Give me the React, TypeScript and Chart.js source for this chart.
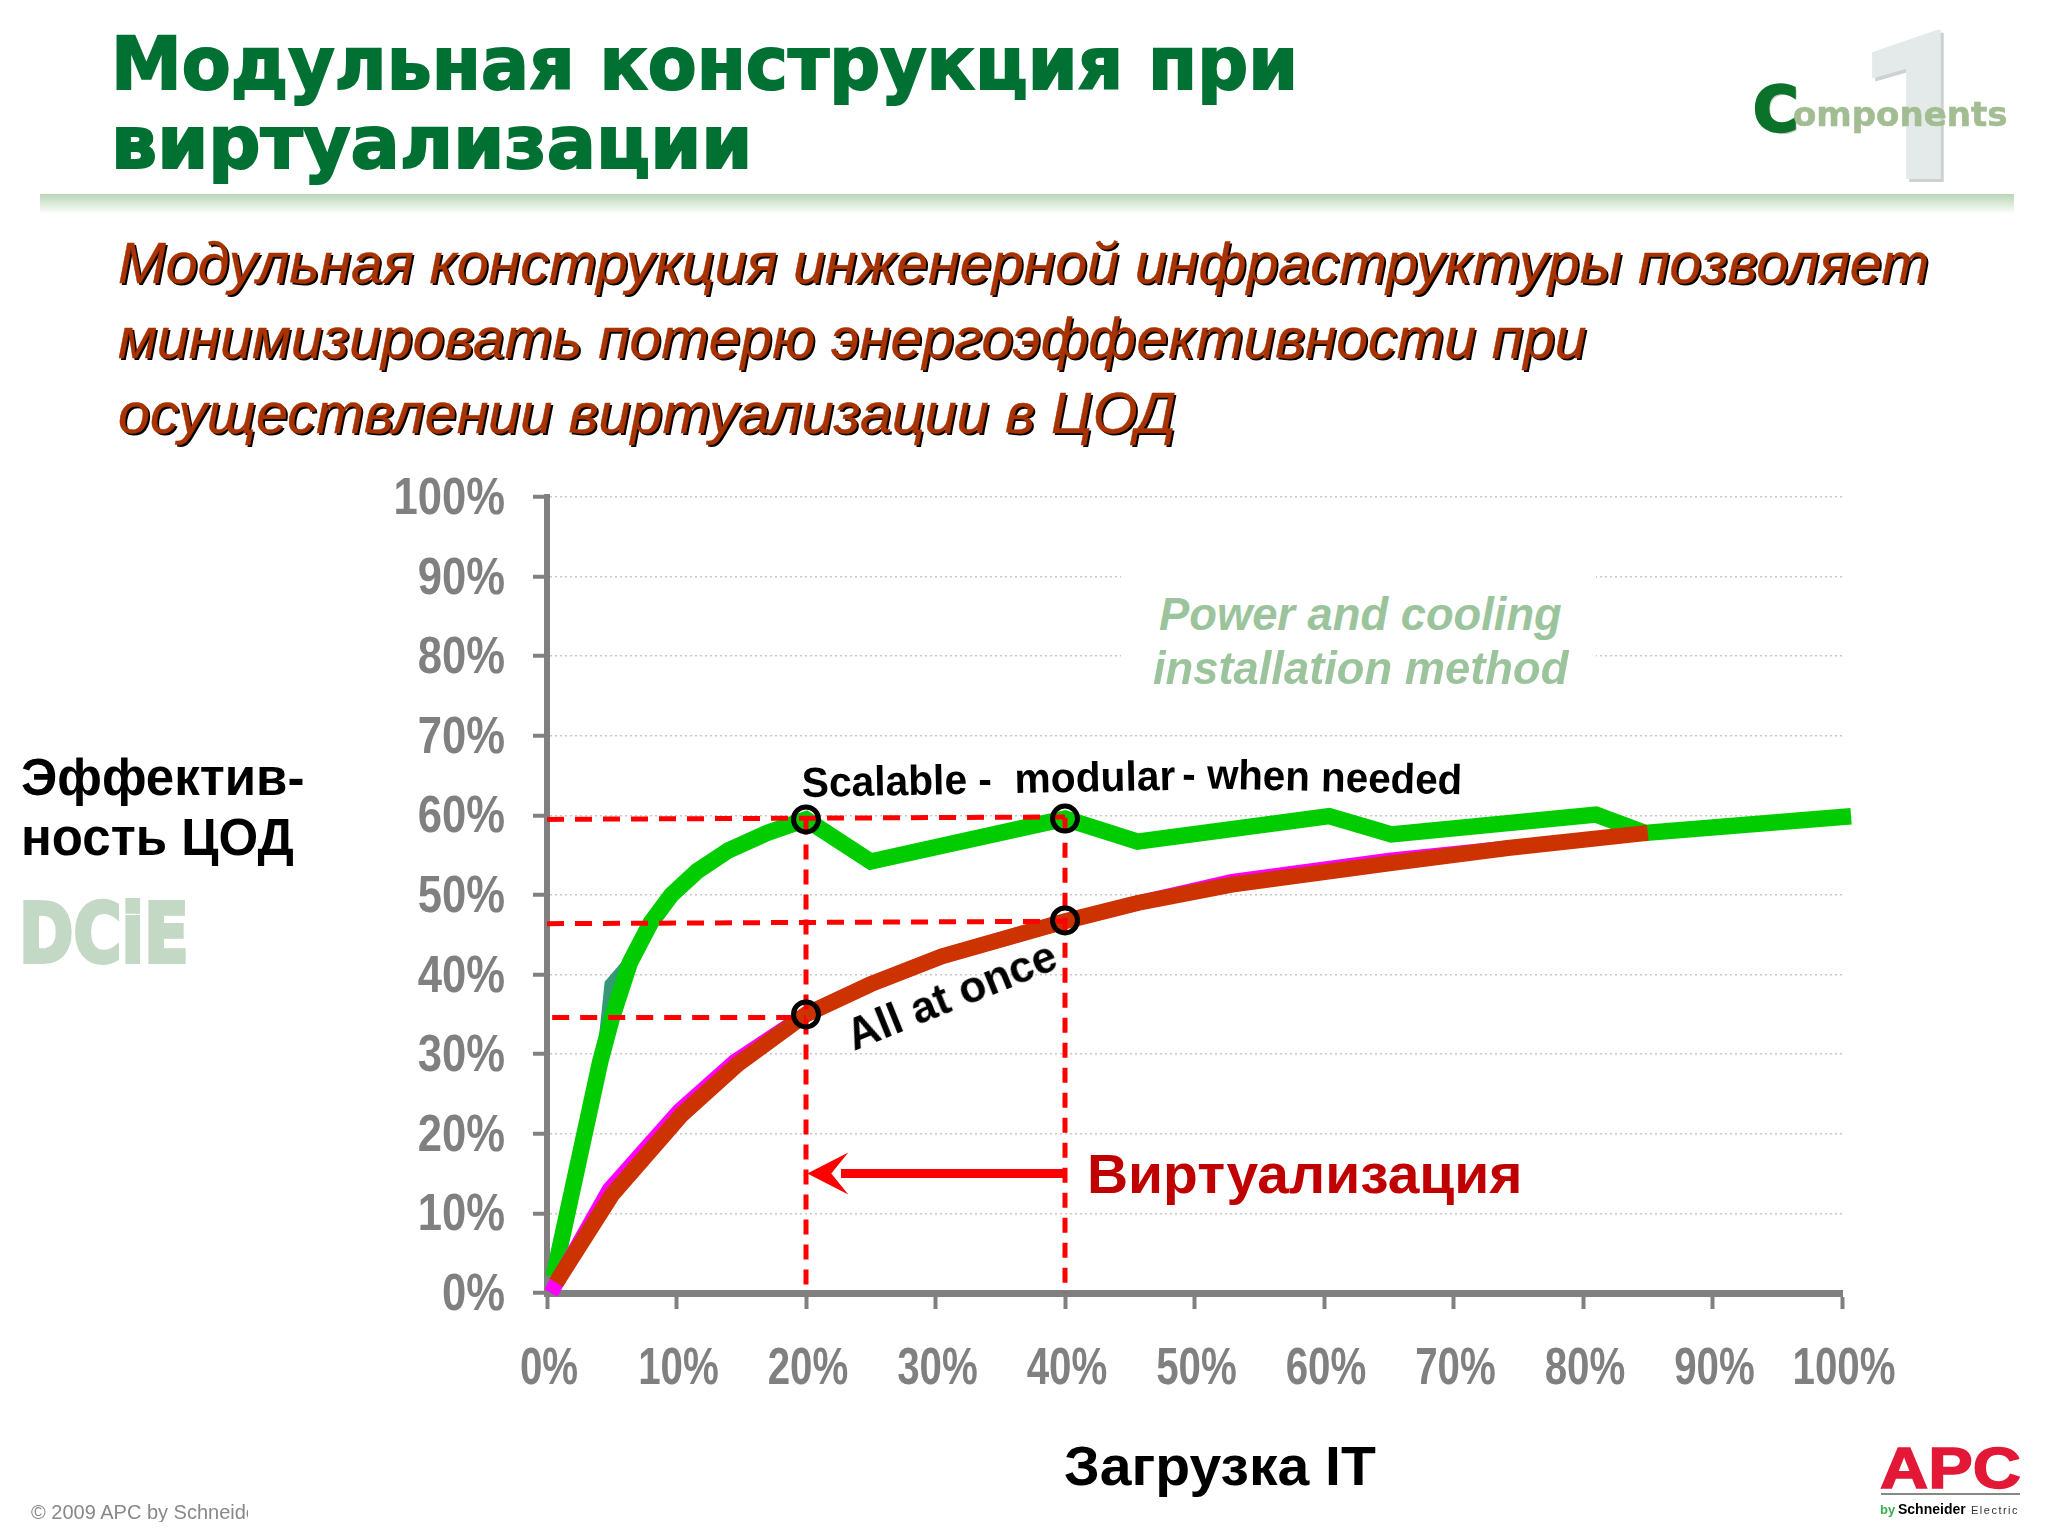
import { useEffect, useRef } from "react";
import type { CSSProperties } from "react";
import { Chart, registerables } from "chart.js";

Chart.register(...registerables);

const greenX = [0.5, 4.1, 5, 6.4, 8, 9.6, 11.6, 14, 17, 20, 25, 40, 45.6, 60.4, 65.2, 81, 84.8, 100.7];
const greenY = [2, 29, 34.5, 41.5, 46.5, 50, 53, 55.6, 57.8, 59.5, 54.2, 59.6, 56.7, 59.9, 57.6, 60.1, 57.8, 59.9];

const tealX = [4.4, 4.9, 6.6];
const tealY = [31, 38.8, 42];

const brownX = [0.7, 5, 10.4, 14.7, 20, 25, 30.5, 40, 45.6, 52.9, 65.2, 74.2, 85];
const brownY = [1.3, 12.3, 22.4, 28.7, 35, 38.8, 42.3, 46.7, 49, 51.3, 54, 55.9, 57.8];

const pinkX = [0.3, 4.8, 10.2, 14.5, 20, 25, 30.5, 40, 45.6, 52.9, 65.2, 74.2];
const pinkY = [0, 13, 22.9, 29.1, 35, 38.8, 42.3, 46.7, 49, 51.7, 54.4, 55.9];

const markerX = [20, 40, 20, 40];
const markerY = [59.5, 59.6, 35, 46.8];

const guideTopX = [0, 40];
const guideTopY = [59.5, 59.8];
const guideMidX = [0, 40];
const guideMidY = [46.4, 46.7];
const guideLowX = [0.4, 20];
const guideLowY = [34.6, 34.6];
const guideLeftX = [20, 20];
const guideLeftY = [59.5, 0];
const guideRightX = [40, 40];
const guideRightY = [59.7, 0];

const arrowX = [40, 22.7];
const arrowY = [15, 15];
const arrowTip = 20.1;

const pts = (xs: number[], ys: number[]) => xs.map((x, i) => ({ x, y: ys[i] }));

const solid = (xs: number[], ys: number[], color: string, width: number, order: number) => ({
  data: pts(xs, ys),
  borderColor: color,
  borderWidth: width,
  pointRadius: 0,
  tension: 0,
  clip: false,
  order,
});

const dashed = (xs: number[], ys: number[], dash: number[]) => ({
  ...solid(xs, ys, "#ff0000", 5, 2),
  borderDash: dash,
});

// stealth arrow head, the shaft itself is a dataset
const arrowHead = {
  id: "arrowHead",
  afterDatasetsDraw(chart: any) {
    const { ctx, scales } = chart;
    const tx = scales.x.getPixelForValue(arrowTip);
    const ty = scales.y.getPixelForValue(arrowY[0]);
    ctx.save();
    ctx.fillStyle = "#ff0000";
    ctx.beginPath();
    ctx.moveTo(tx, ty);
    ctx.lineTo(tx + 41, ty - 21);
    ctx.lineTo(tx + 24, ty);
    ctx.lineTo(tx + 41, ty + 21);
    ctx.closePath();
    ctx.fill();
    ctx.restore();
  },
};

const ChartCanvas = () => {
  const chartRef = useRef<HTMLCanvasElement | null>(null);

  useEffect(() => {
    const ctx: any = chartRef.current ? chartRef.current.getContext("2d") : null;
    if (!ctx) return;

    // no narrow font here, so squeeze the percent tick labels with fillText's maxWidth
    const fill = ctx.fillText.bind(ctx);
    ctx.fillText = (t: string, x: number, y: number, w?: number) => {
      if (!t.endsWith("%")) return fill(t, x, y, w);
      const onY = ctx.textAlign === "right";
      const k = onY ? 0.855 : 0.79;
      fill(t, onY ? x : x + 2, onY ? y + 3 : y, ctx.measureText(t).width * k);
    };

    const myChart = new Chart(ctx, {
      type: "line",
      data: {
        datasets: [
          solid(tealX, tealY, "#339977", 12, 6),
          solid(greenX, greenY, "#00cc00", 16.5, 5),
          solid(pinkX, pinkY, "#ff00ff", 15, 4),
          solid(brownX, brownY, "#cc3300", 16, 3),
          dashed(guideTopX, guideTopY, [17, 11]),
          dashed(guideMidX, guideMidY, [17, 11]),
          dashed(guideLowX, guideLowY, [17, 11]),
          dashed(guideLeftX, guideLeftY, [15, 10]),
          dashed(guideRightX, guideRightY, [15, 10]),
          solid(arrowX, arrowY, "#ff0000", 9, 1),
          {
            data: pts(markerX, markerY),
            showLine: false,
            pointRadius: 12.5,
            pointBorderWidth: 5,
            pointBorderColor: "#000000",
            pointBackgroundColor: "rgba(0,0,0,0)",
            clip: false,
            order: 0,
          },
        ] as any,
      },
      options: {
        animation: false,
        responsive: false,
        devicePixelRatio: 1,
        layout: { padding: { left: 0, top: 497, right: 206, bottom: 0 } },
        plugins: { legend: { display: false }, tooltip: { enabled: false } },
        scales: {
          x: {
            type: "linear",
            min: 0,
            max: 100,
            afterFit: (s: any) => {
              s.height = 243;
            },
            border: { color: "#808080", width: 7 },
            grid: { drawOnChartArea: false, tickColor: "#808080", tickWidth: 4, tickLength: 16 },
            ticks: {
              stepSize: 10,
              maxRotation: 0,
              autoSkip: false,
              padding: 30,
              color: "#808080",
              font: { family: "'Liberation Sans', sans-serif", weight: "bold", size: 51 },
              callback: (v: any) => `${v}%`,
            },
          },
          y: {
            min: 0,
            max: 100,
            afterFit: (s: any) => {
              s.width = 547;
            },
            border: { color: "#808080", width: 6, dash: [2, 3] },
            grid: { color: "#c8c8c8", lineWidth: 1.5, tickColor: "#808080", tickWidth: 4, tickLength: 14 },
            ticks: {
              stepSize: 10,
              autoSkip: false,
              padding: 28,
              color: "#808080",
              font: { family: "'Liberation Sans', sans-serif", weight: "bold", size: 51 },
              callback: (v: any) => `${v}%`,
            },
          },
        },
      },
      plugins: [arrowHead],
    } as any);

    return () => {
      myChart.destroy();
      delete ctx.fillText;
    };
  }, []);

  return <canvas ref={chartRef} width={2048} height={1536} style={{ display: "block" }} />;
};

const SANS = "'Liberation Sans', sans-serif";
const WIDE = "'DejaVu Sans', sans-serif";

type LabelProps = {
  x: number;
  base: number;
  size: number;
  color?: string;
  font?: string;
  bold?: boolean;
  italic?: boolean;
  sx?: number;
  rot?: number;
  style?: CSSProperties;
  children: string;
};

// x is the left edge, base is the baseline of the text
const Label = ({ x, base, size, color = "#000", font = SANS, bold = true, italic = false, sx = 1, rot = 0, style, children }: LabelProps) => (
  <div
    style={{
      position: "absolute",
      left: x,
      top: base - 0.846 * size,
      fontFamily: font,
      fontSize: size,
      lineHeight: 1,
      fontWeight: bold ? "bold" : "normal",
      fontStyle: italic ? "italic" : "normal",
      color,
      whiteSpace: "pre",
      transformOrigin: `0 ${0.846 * size}px`,
      transform: `rotate(${rot}deg) scaleX(${sx})`,
      ...style,
    }}
  >
    {children}
  </div>
);

const App = () => {
  const sub = {
    color: "#a83200",
    italic: true,
    size: 57,
    bold: false,
    style: { textShadow: "2px 2px 0 #000", WebkitTextStroke: "0.4px #a83200" },
  };
  const head = { size: 73, color: "#007033", font: WIDE, style: { WebkitTextStroke: "2px #007033" } };
  return (
    <div style={{ position: "absolute", left: 0, top: 0, width: 2048, height: 1536, background: "#fff", overflow: "hidden" }}>
      <Label x={1855} base={180} size={210} color="#e4eae9" font="Roboto, sans-serif" style={{ fontWeight: 900, textShadow: "3px 3px 0 #ccd2d2" }}>1</Label>
      <ChartCanvas />

      <Label x={111} base={89} sx={0.975} {...head}>Модульная конструкция при</Label>
      <Label x={111} base={168} {...head}>виртуализации</Label>

      <Label x={1753} base={131} size={62} color="#0a7229" font={WIDE} style={{ textShadow: "2px 2px 0 #c8c8c8", WebkitTextStroke: "2.5px #0a7229" }}>C</Label>
      <Label x={1793} base={126} size={34} color="#a3bd92" font={WIDE} style={{ WebkitTextStroke: "0.6px #a3bd92" }}>omponents</Label>

      <div
        style={{
          position: "absolute",
          left: 40,
          top: 194,
          width: 1974,
          height: 20,
          background: "linear-gradient(#b9d6b5, #ffffff)",
        }}
      />

      <Label x={118} base={283} sx={1.007} {...sub}>Модульная конструкция инженерной инфраструктуры позволяет</Label>
      <Label x={118} base={358} sx={1.001} {...sub}>минимизировать потерю энергоэффективности при</Label>
      <Label x={118} base={433} sx={1.01} {...sub}>осуществлении виртуализации в ЦОД</Label>

      <div style={{ position: "absolute", left: 1121, top: 570, width: 475, height: 95, background: "#fff" }} />
      <Label x={1159} base={630} size={46} color="#9cc49c" italic sx={0.985}>Power and cooling</Label>
      <Label x={1153} base={684} size={46} color="#9cc49c" italic sx={0.985}>installation method</Label>

      <Label x={21} base={795} size={51}>Эффектив-</Label>
      <Label x={21} base={855} size={51}>ность ЦОД</Label>
      <Label x={19} base={962} size={82} color="#c4d9c5" font={WIDE} sx={0.8} style={{ WebkitTextStroke: "4px #c4d9c5" }}>DCiE</Label>

      <Label x={802} base={798} size={42} sx={0.97} rot={-1.1}>Scalable -  modular</Label>
      <Label x={1182} base={789} size={42} sx={0.96} rot={1.3}>- when needed</Label>
      <Label x={854} base={1051} size={44} rot={-22}>All at once</Label>
      <Label x={1087} base={1194} size={55} sx={1.035} color="#c00000">Виртуализация</Label>
      <Label x={1064} base={1485} size={56} sx={1.02}>Загрузка IT</Label>

      <Label x={31} base={1519} size={20} color="#888" bold={false} style={{ width: 217, overflow: "hidden" }}>© 2009 APC by Schneide</Label>

      <Label x={1880} base={1488} size={57} color="#e31837" sx={1.17} style={{ WebkitTextStroke: "1.5px #e31837" }}>APC</Label>
      <div style={{ position: "absolute", left: 1881, top: 1493, width: 139, height: 2, background: "#888" }} />
      <Label x={1880} base={1514} size={13} color="#3cae52">by</Label>
      <Label x={1898} base={1514} size={14}>Schneider</Label>
      <Label x={1971} base={1514} size={11} color="#333" bold={false} style={{ letterSpacing: 1.5 }}>Electric</Label>
    </div>
  );
};

export default App;
